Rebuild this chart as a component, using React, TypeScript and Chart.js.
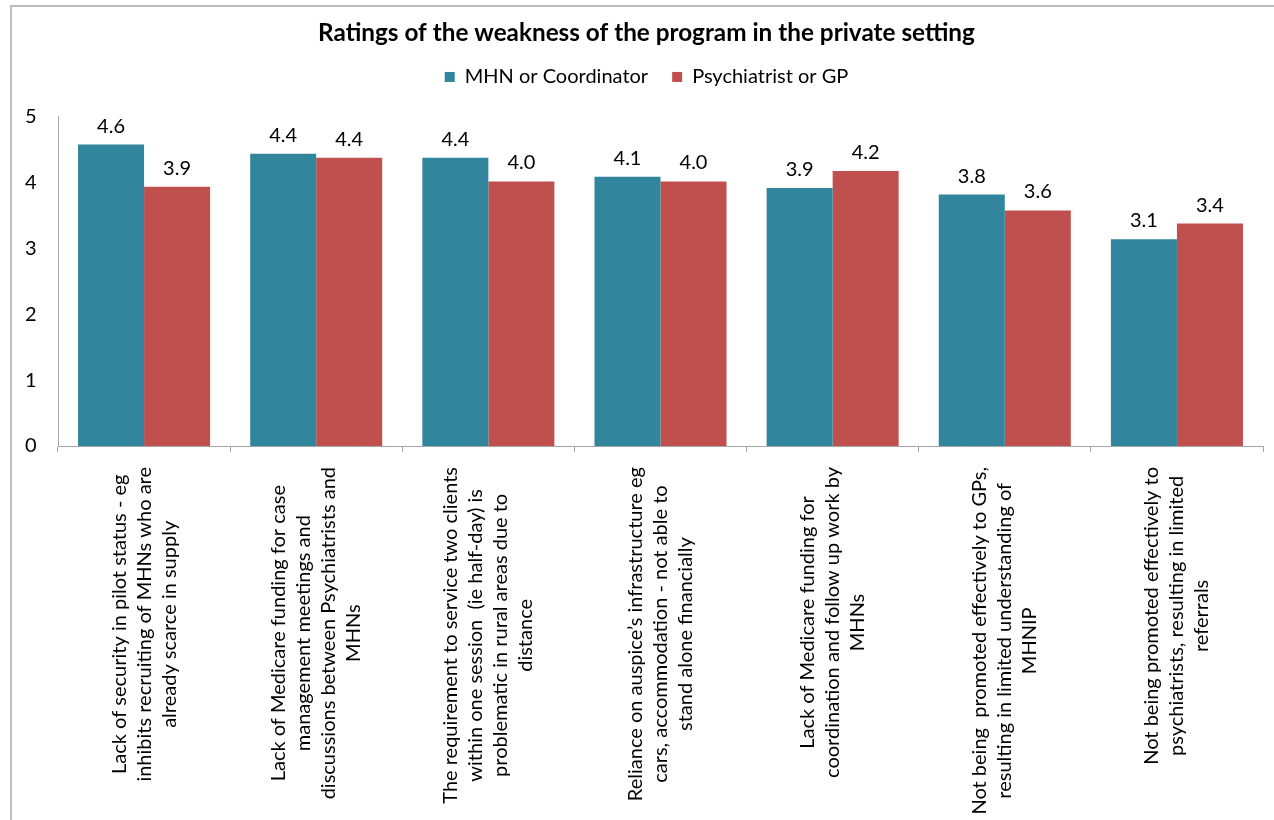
import React, { useEffect, useRef } from "react";
import { Chart, registerables } from "chart.js";

Chart.register(...registerables);

const titleText = "Ratings of the weakness of the program in the private setting";
const seriesNames = ["MHN or Coordinator", "Psychiatrist or GP"];
const categories: string[][] = [
  ["Lack of security in pilot status - eg", "inhibits recruiting of MHNs who are", "already scarce in supply"],
  ["Lack of Medicare funding for case", "management meetings and", "discussions between Psychiatrists and", "MHNs"],
  ["The requirement to service two clients", "within one session  (ie half-day) is", "problematic in rural areas due to", "distance"],
  ["Reliance on auspice\u2019s infrastructure eg", "cars, accommodation - not able to", "stand alone financially"],
  ["Lack of Medicare funding for", "coordination and follow up work by", "MHNs"],
  ["Not being  promoted effectively to GPs,", "resulting in limited understanding of", "MHNIP"],
  ["Not being promoted effectively to", "psychiatrists, resulting in limited", "referrals"],
];
const mhnValues = [4.58, 4.44, 4.38, 4.09, 3.92, 3.82, 3.14];
const psychValues = [3.94, 4.38, 4.02, 4.02, 4.18, 3.58, 3.38];
const yMin = 0;
const yMax = 5;
const yStep = 1;

const FONT = "Lato, 'Open Sans', sans-serif";
const TEAL = "#31859C";
const RED = "#C0504D";

const valueLabelPlugin = {
  id: "valueLabels",
  afterDatasetsDraw(chart: any) {
    const ctx = chart.ctx;
    ctx.save();
    ctx.font = `20px ${FONT}`;
    ctx.fillStyle = "#000";
    ctx.textAlign = "center";
    ctx.textBaseline = "alphabetic";
    chart.data.datasets.forEach((ds: any, di: number) => {
      const meta = chart.getDatasetMeta(di);
      meta.data.forEach((el: any, i: number) => {
        ctx.fillText(Number(ds.data[i]).toFixed(1), el.x, el.y - 12);
      });
    });
    ctx.restore();
  },
};

const categoryLabelPlugin = {
  id: "categoryLabels",
  afterDraw(chart: any) {
    const ctx = chart.ctx;
    const xs = chart.scales.x;
    const lineH = 25;
    ctx.save();
    ctx.font = `20px ${FONT}`;
    ctx.fillStyle = "#000";
    ctx.textAlign = "center";
    ctx.textBaseline = "middle";
    categories.forEach((lines, i) => {
      const cx = xs.getPixelForValue(i);
      const maxW = Math.max(...lines.map((l) => ctx.measureText(l).width));
      const top = xs.top + 21;
      ctx.save();
      ctx.translate(cx, top + maxW / 2);
      ctx.rotate(-Math.PI / 2);
      lines.forEach((line, j) => {
        ctx.fillText(line, 0, (j - (lines.length - 1) / 2) * lineH);
      });
      ctx.restore();
    });
    ctx.restore();
  },
};

export default function App() {
  const ref = useRef<HTMLCanvasElement | null>(null);
  useEffect(() => {
    if (!ref.current) return;
    const chart = new Chart(ref.current, {
      type: "bar",
      data: {
        labels: categories.map((c) => c.join(" ")),
        datasets: [
          { label: seriesNames[0], data: mhnValues, backgroundColor: TEAL, borderWidth: 0 },
          { label: seriesNames[1], data: psychValues, backgroundColor: RED, borderWidth: 0 },
        ],
      },
      options: {
        responsive: false,
        animation: false,
        devicePixelRatio: 1,
        layout: { padding: { left: 18, right: 11, top: 0, bottom: 0 } },
        datasets: { bar: { categoryPercentage: 0.767, barPercentage: 1 } },
        plugins: {
          title: {
            display: true,
            text: titleText,
            color: "#000",
            font: { family: FONT, size: 24.3, weight: "bold" },
            padding: { top: 11.4, bottom: -4.6 },
          },
          subtitle: {
            display: true,
            text: " ",
            weight: 500,
            font: { size: 10 },
            padding: { top: 0, bottom: 8 },
          },
          legend: {
            display: true,
            position: "top",
            labels: {
              boxWidth: 10,
              boxHeight: 10,
              padding: 24,
              color: "#000",
              font: { family: FONT, size: 20 },
            },
          },
          tooltip: { enabled: false },
        },
        scales: {
          x: {
            offset: true,
            grid: { display: true, drawOnChartArea: false, drawTicks: true, tickLength: 6, color: "#a6a6a6" },
            border: { display: true, color: "#a6a6a6", width: 1 },
            ticks: { display: false },
            afterFit: (s: any) => {
              s.height = 374;
            },
          },
          y: {
            min: yMin,
            max: yMax,
            grid: { display: false },
            border: { display: true, color: "#a6a6a6", width: 1 },
            ticks: { stepSize: yStep, color: "#000", mirror: true, padding: -33, font: { family: FONT, size: 20 } },
            afterFit: (s: any) => {
              s.width = 28;
            },
          },
        },
      },
      plugins: [valueLabelPlugin, categoryLabelPlugin],
    } as any);
    return () => chart.destroy();
  }, []);

  return (
    <div style={{ position: "fixed", left: 0, top: 0, width: 1274, height: 820, overflow: "hidden", background: "#fff" }}>
      <div
        style={{
          position: "absolute",
          left: 10,
          top: 5,
          width: 1400,
          height: 1000,
          border: "2px solid #bdbdbd",
          background: "#fff",
        }}
      >
        <canvas ref={ref} width={1262} height={813} style={{ position: "absolute", left: 0, top: 0, width: 1262, height: 813 }} />
      </div>
    </div>
  );
}
